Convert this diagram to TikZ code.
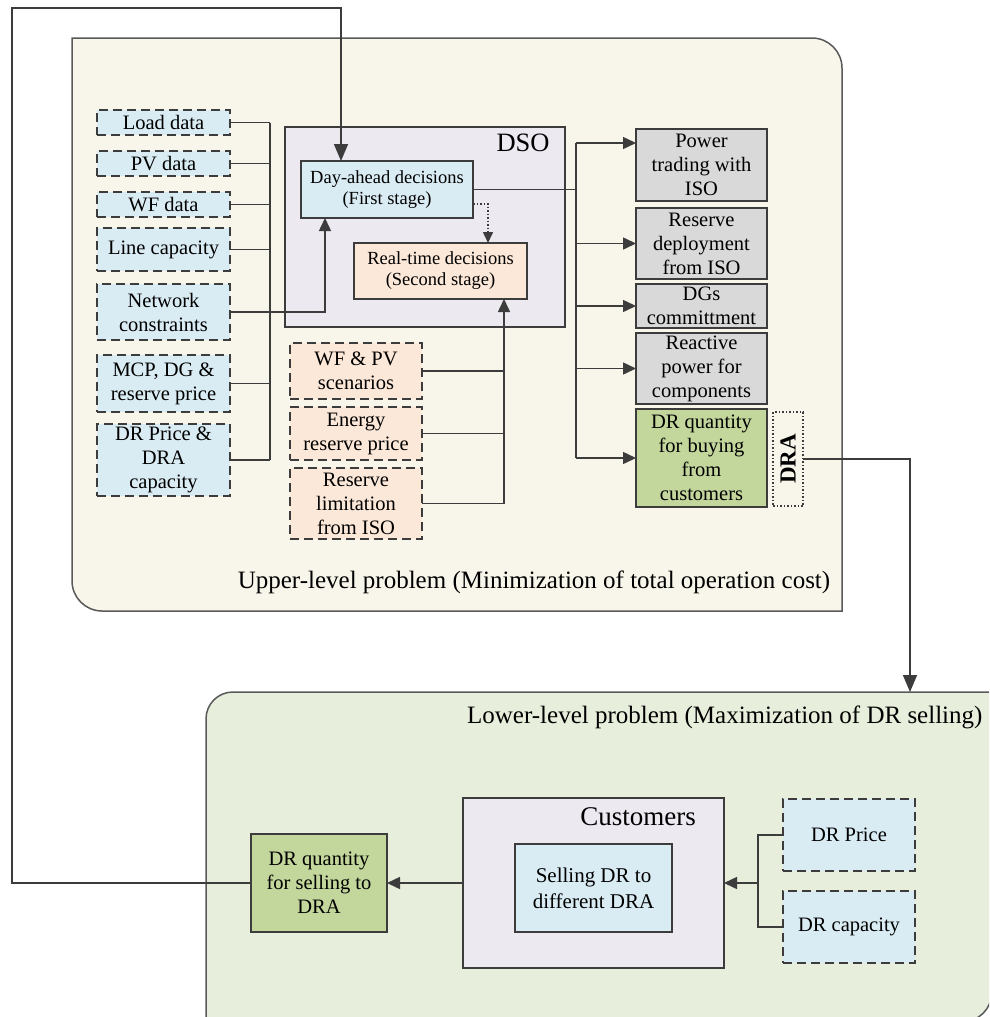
\documentclass[tikz,border=0pt]{standalone}
\usepackage{fontspec}
\setmainfont{Liberation Serif}
\usetikzlibrary{arrows.meta}

\definecolor{upperbg}{HTML}{F8F6EB}
\definecolor{lowerbg}{HTML}{E8EEDC}
\definecolor{lavender}{HTML}{ECE9F1}
\definecolor{bluefill}{HTML}{DAECF3}
\definecolor{orangefill}{HTML}{FCE8D9}
\definecolor{grayfill}{HTML}{D9D9D9}
\definecolor{greenfill}{HTML}{C3D69B}
\definecolor{edge}{HTML}{3C3C3C}

\tikzset{
  base/.style={inner sep=0pt, outer sep=0pt, align=center, draw=edge, line width=1.6pt,
               font=\fontsize{20.5}{24}\selectfont},
  inbox/.style={base, fill=bluefill, dash pattern=on 9pt off 5pt, line width=1.9pt},
  scenbox/.style={base, fill=orangefill, dash pattern=on 9pt off 5pt, line width=1.9pt},
  outbox/.style={base, fill=grayfill},
  greenbox/.style={base, fill=greenfill},
  stagebox/.style={base, font=\fontsize{18.5}{21}\selectfont},
  holder/.style={base, fill=lavender},
  wire/.style={draw=edge, line width=1.5pt},
  arr/.style={wire, -{Triangle[length=13pt,width=12pt]}},
  bigarr/.style={wire, -{Triangle[length=17pt,width=14pt]}},
  dotarr/.style={draw=edge, line width=1.5pt, dotted, -{Triangle[length=11pt,width=10pt]}},
}

% box from its corners (x1,y1) to (x2,y2), y measured downwards
\newcommand{\mkbox}[7]{%
  \node[#1, minimum width={#5pt-#3pt}, minimum height={#6pt-#4pt}]
    (#2) at ({(#3+#5)/2},{(#4+#6)/2}) {#7};}

\begin{document}
\begin{tikzpicture}[x=1pt,y=-1pt]
\useasboundingbox (0,0) rectangle (989,1017);
\clip (0,0) rectangle (989,1017);

% upper-level region
\draw[draw=edge!85, fill=upperbg, line width=1.5pt]
  (72,38) -- (812,38) .. controls (828.5,38) and (842,51.5) .. (842,68)
  -- (842,611) -- (102,611) .. controls (85.5,611) and (72,597.5) .. (72,581) -- cycle;
\node[font=\fontsize{25}{30}\selectfont] (uplabel) at (534,582)
  {Upper-level problem (Minimization of total operation cost)};

% lower-level region
\draw[draw=edge!85, fill=lowerbg, line width=1.5pt]
  (206,1030) -- (206,719) .. controls (206,704) and (218,692) .. (233,692)
  -- (992,692) -- (992,992) .. controls (992,1008.5) and (978.5,1022) .. (962,1022)
  -- (206,1022);
\node[font=\fontsize{25}{30}\selectfont, anchor=east] (lowlabel) at (986,717)
  {Lower-level problem (Maximization of DR selling)};

% DSO
\mkbox{holder}{dso}{285}{127}{565}{327}{}
\node[font=\fontsize{26.5}{30}\selectfont] (dsolabel) at (523,143) {DSO};
\mkbox{stagebox, fill=bluefill}{dayahead}{301}{161}{473}{218}{Day-ahead decisions\\(First stage)}
\mkbox{stagebox, fill=orangefill}{realtime}{354}{243}{527}{299}{Real-time decisions\\(Second stage)}

% input data
\mkbox{inbox}{load}{97}{110}{230}{135}{Load data}
\mkbox{inbox}{pv}{97}{151}{230}{176}{PV data}
\mkbox{inbox}{wf}{97}{192}{230}{217}{WF data}
\mkbox{inbox}{linecap}{97}{228}{230}{271}{Line capacity}
\mkbox{inbox}{net}{97}{284}{230}{340}{Network\\constraints}
\mkbox{inbox}{mcp}{97}{355}{230}{412}{MCP, DG \&\\reserve price}
\mkbox{inbox}{drpc}{97}{424}{230}{496}{DR Price \&\\DRA\\capacity}

% scenario data
\mkbox{scenbox}{wfpv}{290}{343}{422}{399}{WF \& PV\\scenarios}
\mkbox{scenbox}{energy}{290}{407}{422}{460}{Energy\\reserve price}
\mkbox{scenbox}{rlim}{290}{468}{422}{539}{Reserve\\limitation\\from ISO}

% outputs
\mkbox{outbox}{power}{636}{129}{767}{201}{Power\\trading with\\ISO}
\mkbox{outbox}{reserve}{636}{208}{767}{279}{Reserve\\deployment\\from ISO}
\mkbox{outbox}{dgs}{636}{284}{767}{328}{DGs\\committment}
\mkbox{outbox}{reactive}{636}{333}{767}{404}{Reactive\\power for\\components}
\mkbox{greenbox}{drbuy}{636}{409}{767}{507}{DR quantity\\for buying\\from\\customers}
\node[draw=edge, line width=1.5pt, dotted, inner sep=0pt, outer sep=0pt,
      minimum width=30pt, minimum height=94pt] (dra) at (788,459) {};
\node[rotate=90, font=\fontsize{23}{26}\selectfont\bfseries] (dratext) at (dra) {DRA};

% lower level
\mkbox{greenbox}{drsell}{251}{834}{387}{932}{DR quantity\\for selling to\\DRA}
\mkbox{holder}{cust}{463}{798}{724}{968}{}
\node[font=\fontsize{27}{30}\selectfont] (custlabel) at (638,817) {Customers};
\mkbox{base, fill=bluefill, font=\fontsize{21}{26}\selectfont}{sell}{515}{844}{672}{932}{Selling DR to\\different DRA}
\mkbox{inbox}{drprice}{783}{799}{915}{871}{DR Price}
\mkbox{inbox}{drcap}{783}{891}{915}{963}{DR capacity}

% junction points
\coordinate (lbusT) at (270,122.5);
\coordinate (lbusB) at (270,460);
\coordinate (netin) at (325,218);
\coordinate (topin) at (341,161);
\coordinate (loop) at (12,8);
\coordinate (rtin) at (488,243);
\coordinate (rtout) at (504,299);
\coordinate (rbusT) at (576,143);
\coordinate (rbusB) at (576,458);
\coordinate (lowin) at (910,692);
\coordinate (jn) at (758,883);

% left input bus
\draw[wire] (lbusT) -- (lbusB);
\foreach \b in {load,pv,wf,linecap,mcp,drpc}
  \draw[wire] (\b.east) -- (\b.east -| lbusT);
\draw[arr] (net.east) -| (netin);

% feedback from the lower level
\draw[bigarr] (drsell.west) -| (loop) -| (topin);

% first stage to second stage
\draw[dotarr] ([yshift=-14.5pt]dayahead.east) -| (rtin);

% scenario inputs
\draw[wire] (wfpv.east) -- (wfpv.east -| rtout);
\draw[wire] (energy.east) -- (energy.east -| rtout);
\draw[arr] (rlim.east) -| (rtout);

% outputs bus
\draw[wire] (dayahead.east) -- (dayahead.east -| rbusT);
\draw[wire] (rbusT) -- (rbusB);
\draw[arr] (rbusT) -- (rbusT -| power.west);
\foreach \b in {reserve,dgs,reactive,drbuy}
  \draw[arr] (\b.west -| rbusT) -- (\b.west);

% DRA to lower level
\draw[bigarr] (dra.east) -| (lowin);

% lower-level connections
\draw[wire] (drprice.west) -| (jn) |- (drcap.west);
\draw[arr] (jn) -- (cust.east);
\draw[arr] (cust.west) -- (drsell.east);
\end{tikzpicture}
\end{document}
